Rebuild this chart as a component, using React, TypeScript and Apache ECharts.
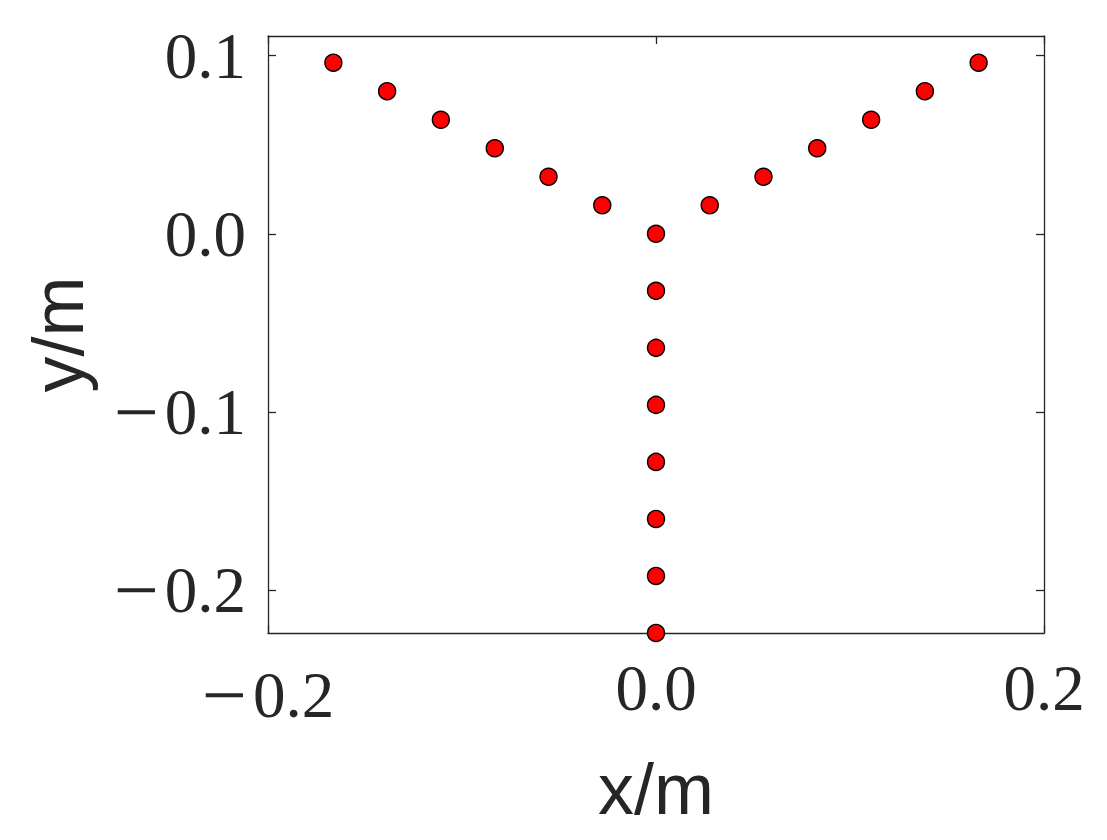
import React, { useEffect, useRef } from "react";
import * as echarts from "echarts";

const stemX = [0, 0, 0, 0, 0, 0, 0, 0];
const stemY = [0, -0.032, -0.064, -0.096, -0.128, -0.16, -0.192, -0.224];
const leftArmX = [-0.1663, -0.1386, -0.1109, -0.0831, -0.0554, -0.0277];
const leftArmY = [0.096, 0.08, 0.064, 0.048, 0.032, 0.016];
const rightArmX = [0.0277, 0.0554, 0.0831, 0.1109, 0.1386, 0.1663];
const rightArmY = [0.016, 0.032, 0.048, 0.064, 0.08, 0.096];

const xTicks = [-0.2, 0, 0.2];
const yTicks = [-0.2, -0.1, 0, 0.1];
const xRange = [-0.2, 0.2];
const yRange = [-0.224, 0.111];

const TEXT = "#262626";
const SERIF = "'Liberation Serif', 'DejaVu Serif', serif";
const SANS = "'Liberation Sans', Arial, sans-serif";

const fmt = (v: number) => {
  const s = Math.abs(v).toFixed(1);
  return v < -1e-9 ? `{m|\u2212}{n|${s}}` : `{n|${s}}`;
};

export default function App() {
  const ref = useRef<HTMLDivElement>(null);
  useEffect(() => {
    document.body.style.margin = "0";
    if (!ref.current) return;
    const chart = echarts.init(ref.current, null, { renderer: "svg" });
    const points: number[][] = [];
    leftArmX.forEach((x, i) => points.push([x, leftArmY[i]]));
    stemX.forEach((x, i) => points.push([x, stemY[i]]));
    rightArmX.forEach((x, i) => points.push([x, rightArmY[i]]));

    const lineStyle = { color: TEXT, width: 1.3 };
    const tickCommon = { show: true, inside: true, length: 8, lineStyle };
    const rich = {
      m: { fontFamily: SERIF, fontSize: 80, color: TEXT, padding: [0, 6, 0, 0] },
      n: { fontFamily: SERIF, fontSize: 65, color: TEXT },
    };

    chart.setOption({
      animation: false,
      backgroundColor: "#ffffff",
      grid: { left: 268, top: 36, right: 63, bottom: 207, containLabel: false },
      xAxis: [
        {
          type: "value",
          min: xRange[0],
          max: xRange[1],
          name: "x/m",
          nameLocation: "middle",
          nameGap: 120,
          nameTextStyle: { fontFamily: SANS, fontSize: 72, color: TEXT },
          axisLine: { show: true, onZero: false, lineStyle },
          axisTick: { ...tickCommon, customValues: xTicks },
          axisLabel: {
            customValues: xTicks,
            formatter: fmt,
            fontFamily: SERIF,
            fontSize: 65,
            color: TEXT,
            margin: 22,
            rich,
          },
          splitLine: { show: false },
        },
        {
          type: "value",
          position: "top",
          min: xRange[0],
          max: xRange[1],
          axisLine: { show: true, onZero: false, lineStyle },
          axisTick: { ...tickCommon, customValues: xTicks },
          axisLabel: { show: false },
          splitLine: { show: false },
        },
      ],
      yAxis: [
        {
          type: "value",
          min: yRange[0],
          max: yRange[1],
          name: "y/m",
          nameLocation: "middle",
          nameRotate: 90,
          nameGap: 174,
          nameTextStyle: { fontFamily: SANS, fontSize: 72, color: TEXT },
          axisLine: { show: true, onZero: false, lineStyle },
          axisTick: { ...tickCommon, customValues: yTicks },
          axisLabel: {
            customValues: yTicks,
            formatter: fmt,
            fontFamily: SERIF,
            fontSize: 65,
            color: TEXT,
            margin: 22,
            rich,
          },
          splitLine: { show: false },
        },
        {
          type: "value",
          position: "right",
          min: yRange[0],
          max: yRange[1],
          axisLine: { show: true, onZero: false, lineStyle },
          axisTick: { ...tickCommon, customValues: yTicks },
          axisLabel: { show: false },
          splitLine: { show: false },
        },
      ],
      series: [
        {
          type: "scatter",
          xAxisIndex: 0,
          yAxisIndex: 0,
          data: points,
          symbol: "circle",
          symbolSize: 17,
          clip: false,
          itemStyle: {
            color: "#ff0000",
            opacity: 1,
            borderColor: "#000000",
            borderWidth: 1.4,
          },
          z: 5,
        },
      ],
    });
    return () => chart.dispose();
  }, []);
  return <div ref={ref} style={{ width: 1107, height: 840 }} />;
}
